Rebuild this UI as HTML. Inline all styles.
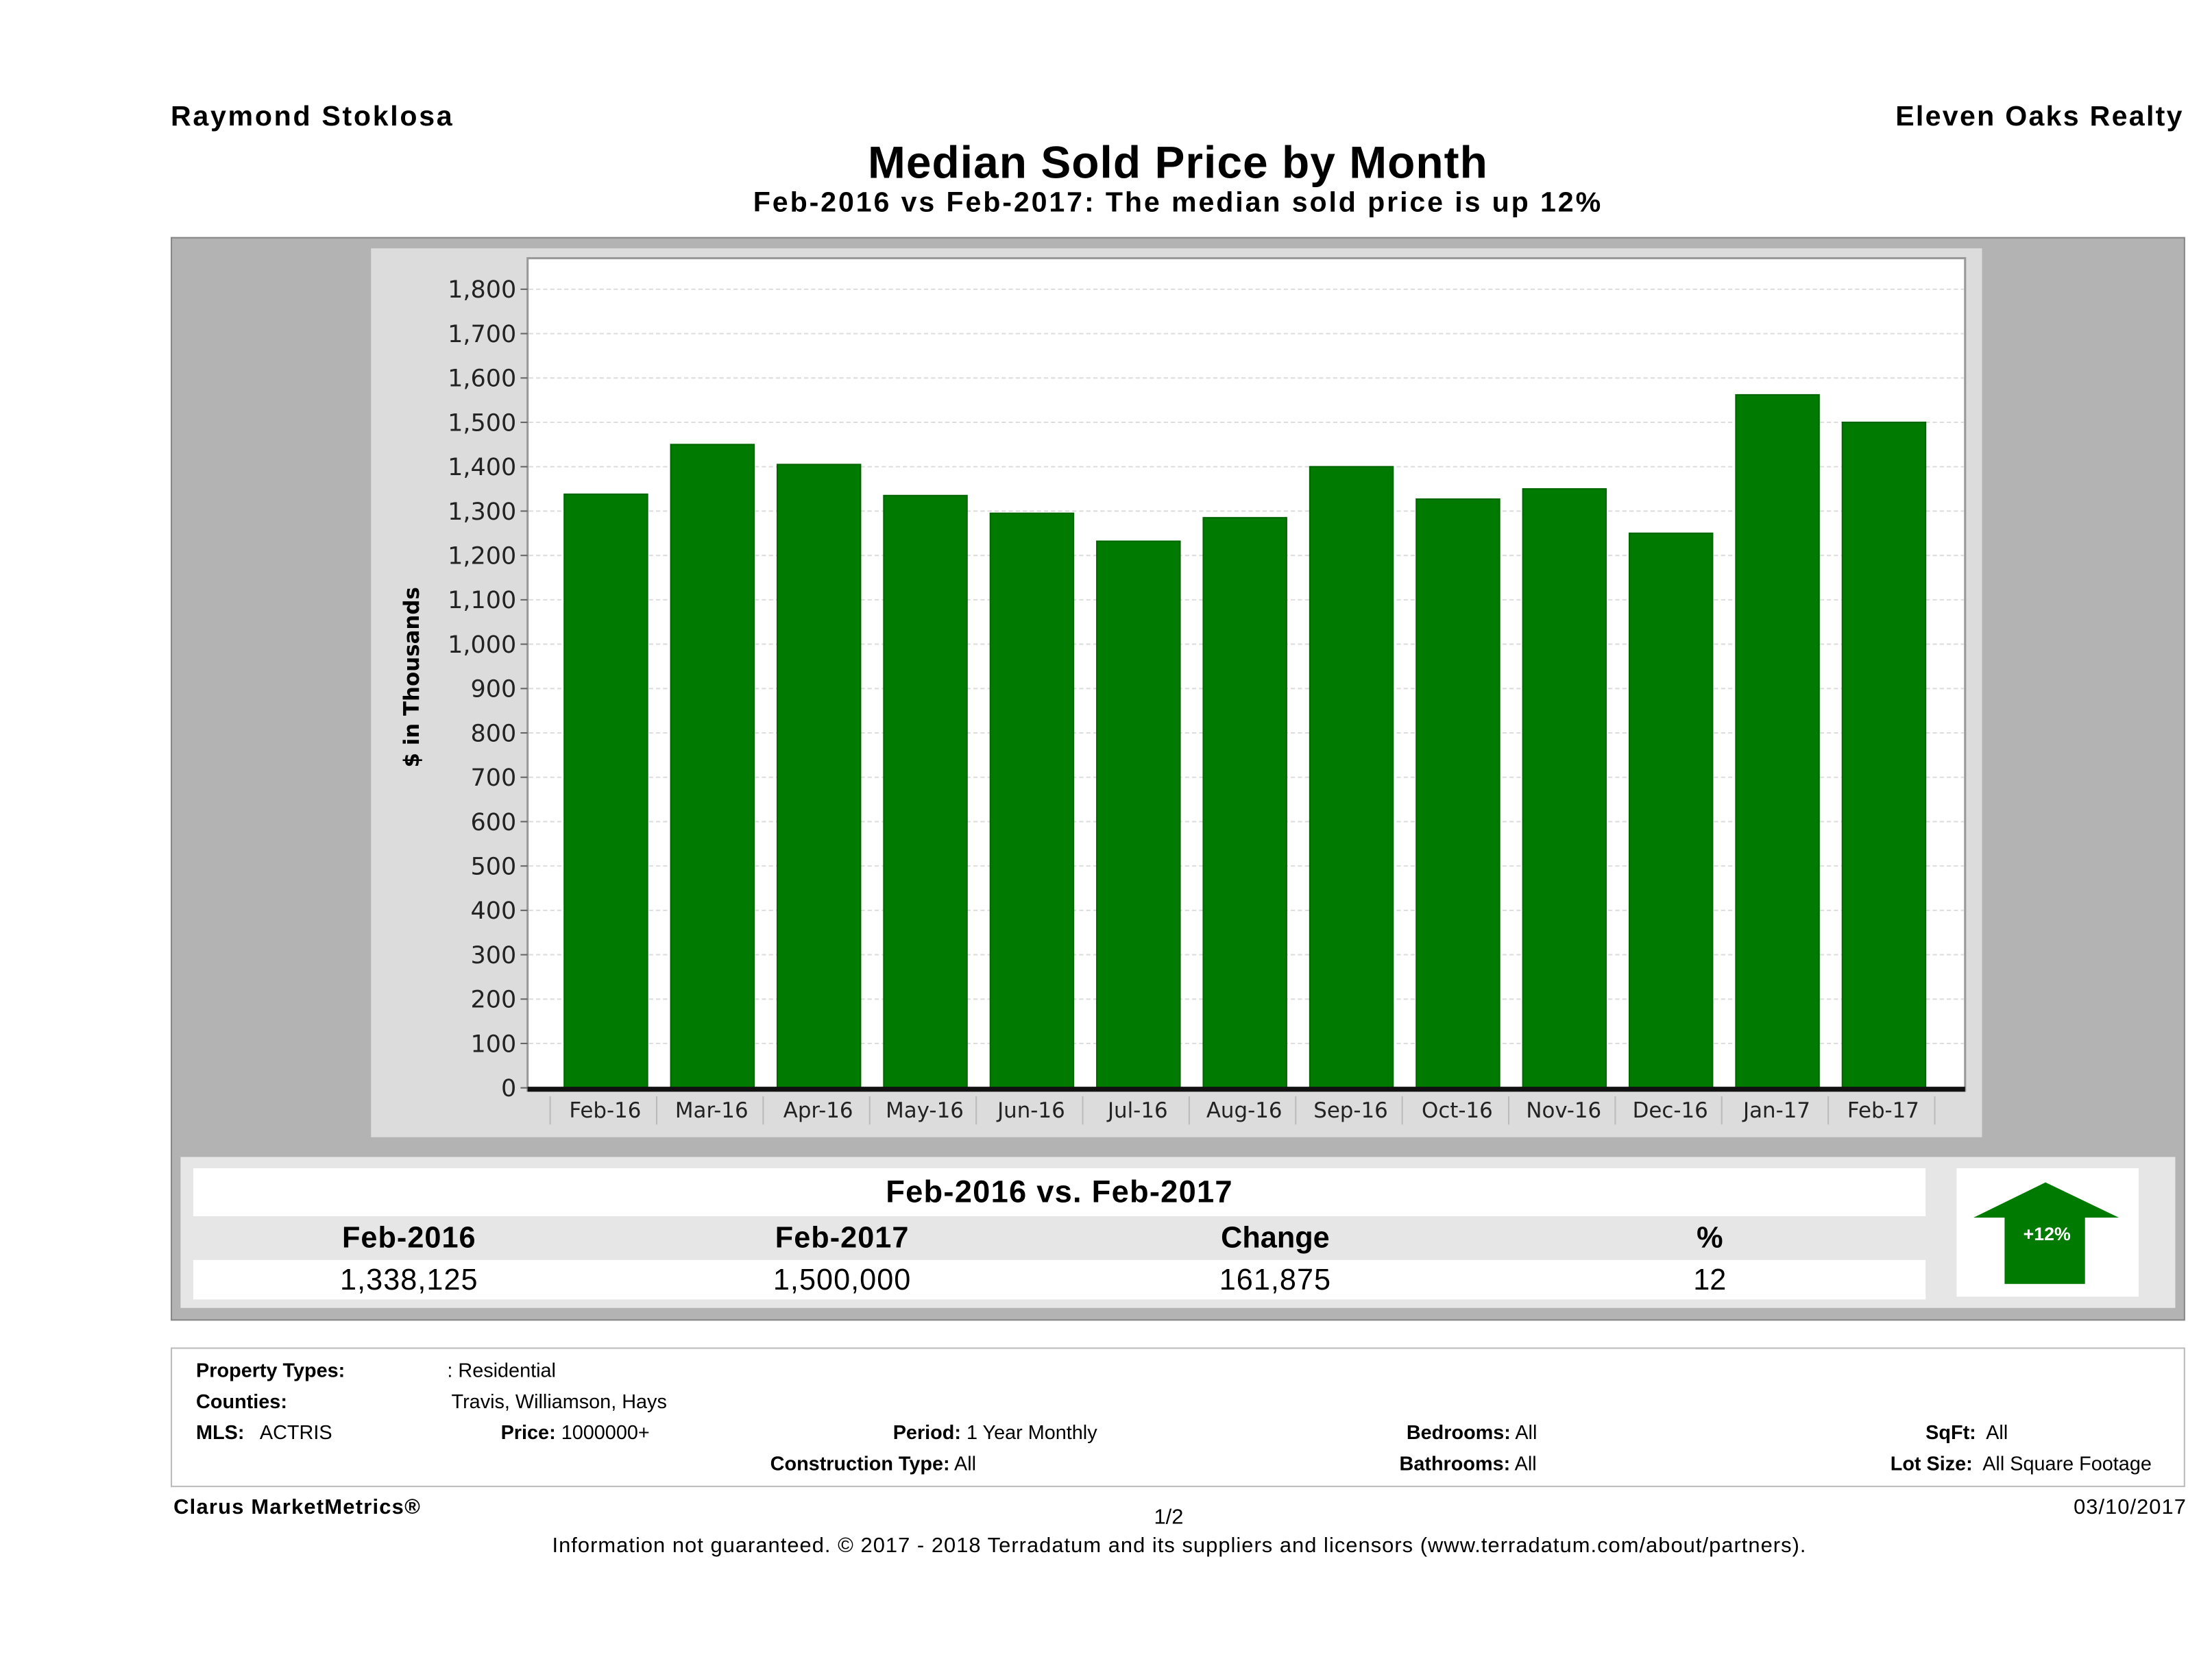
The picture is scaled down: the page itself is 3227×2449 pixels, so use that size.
<!DOCTYPE html>
<html><head><meta charset="utf-8">
<style>
html,body{margin:0;padding:0;background:#fff;width:3227px;height:2448px;overflow:hidden}
#wrap{position:absolute;left:0;top:0;width:1568px;height:1190px;transform:scale(2.058);transform-origin:0 0;font-family:"Liberation Sans",sans-serif;color:#000}
.t{position:absolute;white-space:nowrap}
.b{font-weight:bold}
</style></head><body>
<div id="wrap">
<div class="t b" style="left:121px;top:72px;font-size:20px;letter-spacing:1.3px">Raymond Stoklosa</div>
<div class="t b" style="right:20px;top:72px;font-size:20px;letter-spacing:1.1px">Eleven Oaks Realty</div>
<div class="t b" style="left:0;width:1670px;text-align:center;top:97px;font-size:32px;letter-spacing:0.5px">Median Sold Price by Month</div>
<div class="t b" style="left:0;width:1670px;text-align:center;top:133px;font-size:20px;letter-spacing:1.4px">Feb-2016 vs Feb-2017: The median sold price is up 12%</div>

<div style="position:absolute;left:121px;top:168px;width:1426px;height:766px;background:#b3b3b3;border:1px solid #888"></div>
<svg id="chart" style="position:absolute;left:0;top:0" width="1568" height="1190">
<rect x="263" y="176" width="1142" height="630" fill="#dcdcdc"/>
<rect x="374" y="183" width="1019" height="590" fill="#fff" stroke="#999" stroke-width="1.5"/>
<g id="grid"></g><g id="bars"></g><g id="yt"></g><g id="xt"></g>
<line x1="374" y1="772" x2="1393" y2="772" stroke="#111" stroke-width="3.5"/>
<text transform="translate(297,480) rotate(-90)" text-anchor="middle" font-family="DejaVu Sans,sans-serif" font-weight="bold" font-size="15">$ in Thousands</text>
</svg>

<div style="position:absolute;left:128px;top:820px;width:1414px;height:107px;background:#e6e6e6"></div>
<div style="position:absolute;left:137px;top:828px;width:1228px;height:34px;background:#fff"></div>
<div style="position:absolute;left:137px;top:893px;width:1228px;height:28px;background:#fff"></div>
<div class="t b" style="left:137px;width:1228px;text-align:center;top:832px;font-size:22px;letter-spacing:0.6px">Feb-2016 vs. Feb-2017</div>
<div class="t b" style="left:190px;width:200px;text-align:center;top:866px;font-size:21px;letter-spacing:0.5px">Feb-2016</div>
<div class="t b" style="left:497px;width:200px;text-align:center;top:866px;font-size:21px;letter-spacing:0.5px">Feb-2017</div>
<div class="t b" style="left:804px;width:200px;text-align:center;top:866px;font-size:21px">Change</div>
<div class="t b" style="left:1112px;width:200px;text-align:center;top:866px;font-size:21px">%</div>
<div class="t" style="left:190px;width:200px;text-align:center;top:896px;font-size:21px;letter-spacing:0.5px">1,338,125</div>
<div class="t" style="left:497px;width:200px;text-align:center;top:896px;font-size:21px;letter-spacing:0.5px">1,500,000</div>
<div class="t" style="left:804px;width:200px;text-align:center;top:896px;font-size:21px;letter-spacing:0.5px">161,875</div>
<div class="t" style="left:1112px;width:200px;text-align:center;top:896px;font-size:21px">12</div>
<div style="position:absolute;left:1387px;top:828px;width:129px;height:91px;background:#fff">
<svg width="129" height="91"><polygon points="12,35 63,10 115,35 91,35 91,82 34,82 34,35" fill="#007a00"/>
<text x="64" y="51" text-anchor="middle" fill="#fff" font-size="13" font-weight="bold" font-family="Liberation Sans,sans-serif">+12%</text></svg></div>

<div style="position:absolute;left:121px;top:955px;width:1426px;height:97px;border:1px solid #bbb"></div>
<div class="t b" style="left:139px;top:963px;font-size:14px">Property Types:</div>
<div class="t" style="left:317px;top:963px;font-size:14px">: Residential</div>
<div class="t b" style="left:139px;top:985px;font-size:14px">Counties:</div>
<div class="t" style="left:320px;top:985px;font-size:14px">Travis, Williamson, Hays</div>
<div class="t" style="left:139px;top:1007px;font-size:14px"><b>MLS:</b>&nbsp;&nbsp; ACTRIS</div>
<div class="t" style="left:355px;top:1007px;font-size:14px"><b>Price:</b> 1000000+</div>
<div class="t" style="left:633px;top:1007px;font-size:14px"><b>Period:</b> 1 Year Monthly</div>
<div class="t" style="left:546px;top:1029px;font-size:14px"><b>Construction Type:</b> All</div>
<div class="t" style="left:997px;top:1007px;font-size:14px"><b>Bedrooms:</b> All</div>
<div class="t" style="left:992px;top:1029px;font-size:14px"><b>Bathrooms:</b> All</div>
<div class="t" style="left:1365px;top:1007px;font-size:14px"><b>SqFt:</b>&nbsp; All</div>
<div class="t" style="left:1340px;top:1029px;font-size:14px"><b>Lot Size:</b>&nbsp; All Square Footage</div>

<div class="t b" style="left:123px;top:1060px;font-size:15px;letter-spacing:0.6px">Clarus MarketMetrics®</div>
<div class="t" style="left:818px;top:1067px;font-size:15px">1/2</div>
<div class="t" style="right:18px;top:1060px;font-size:15px;letter-spacing:0.5px">03/10/2017</div>
<div class="t" style="left:0;width:1672px;text-align:center;top:1087px;font-size:15px;letter-spacing:0.5px">Information not guaranteed. © 2017 - 2018 Terradatum and its suppliers and licensors (www.terradatum.com/about/partners).</div>
</div>
<script>
const categories=["Feb-16","Mar-16","Apr-16","May-16","Jun-16","Jul-16","Aug-16","Sep-16","Oct-16","Nov-16","Dec-16","Jan-17","Feb-17"];
const values=[1338,1450,1405,1335,1295,1232,1285,1400,1327,1350,1250,1562,1500];
const yTicks=[0,100,200,300,400,500,600,700,800,900,1000,1100,1200,1300,1400,1500,1600,1700,1800];
const NS="http://www.w3.org/2000/svg";
const y0=771,yPer=(771-205)/1800;
function yScale(v){return y0-v*yPer;}
function xBand(i){return 392+i*75.5;}
function mk(t,a,p){const e=document.createElementNS(NS,t);for(const k in a)e.setAttribute(k,a[k]);document.getElementById(p).appendChild(e);return e;}
yTicks.forEach(v=>{
 const y=yScale(v);
 if(v>0){const g=mk('line',{x1:375,x2:1392,y1:y,y2:y,stroke:'#ddd','stroke-dasharray':'3,2'},'grid');
 
 }
 mk('line',{x1:369,x2:374,y1:y,y2:y,stroke:'#666'},'yt');
 const t=mk('text',{x:366,y:y+6,'text-anchor':'end','font-size':17,'font-family':'DejaVu Sans,sans-serif',fill:'#222'},'yt');
 t.textContent=v.toLocaleString('en-US');
 
 
});
categories.forEach((c,i)=>{
 const x=xBand(i);
 const r=mk('rect',{x:x+8,y:yScale(values[i]),width:59,height:y0-yScale(values[i]),fill:'#007a00',stroke:'#006600'},'bars');
 
 
 mk('line',{x1:x-2,x2:x-2,y1:777,y2:797,stroke:'#bbb'},'xt');
 if(i==categories.length-1)mk('line',{x1:x+73.5,x2:x+73.5,y1:777,y2:797,stroke:'#bbb'},'xt');
 const t=mk('text',{x:x+37,y:792,'text-anchor':'middle','font-size':15,'font-family':'DejaVu Sans,sans-serif',fill:'#222'},'xt');
 t.textContent=c;
 
 
});
</script>
</body></html>
